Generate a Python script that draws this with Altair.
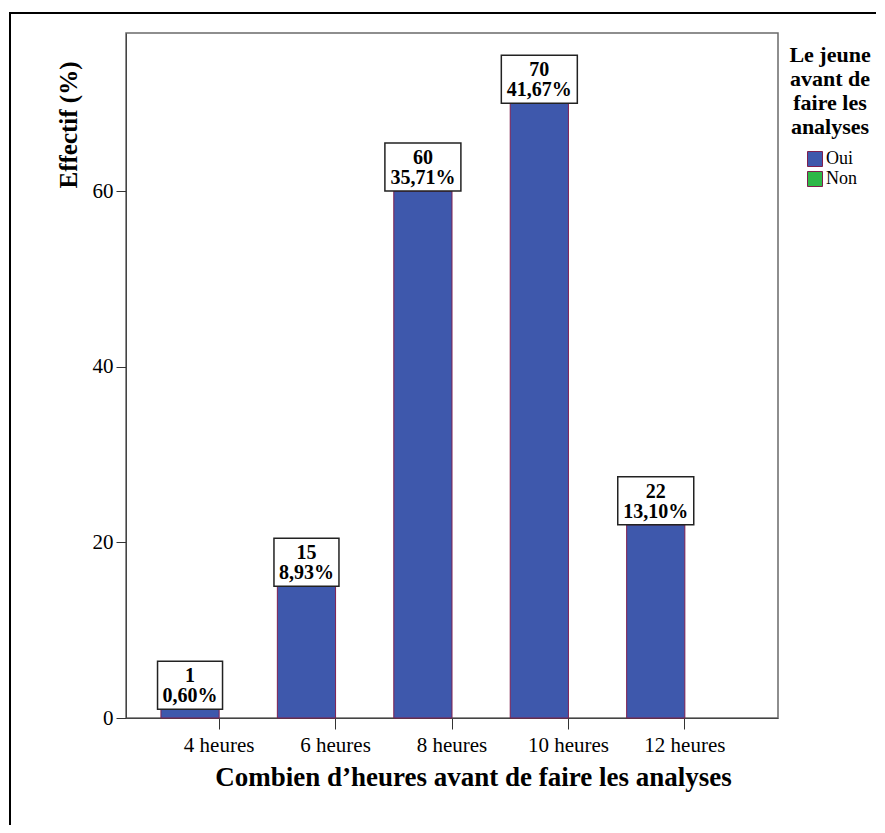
import altair as alt
import pandas as pd

categories = ["4 heures", "6 heures", "8 heures", "10 heures", "12 heures"]
counts = [1, 15, 60, 70, 22]
percents = ["0,60%", "8,93%", "35,71%", "41,67%", "13,10%"]
groups = ["Oui", "Non"]
group_colors = ["#3E58AC", "#2EB848"]

df = pd.DataFrame({
    "cat": categories,
    "count": counts,
    "pct": percents,
    "group": ["Oui"] * len(categories),
})

SERIF = "Liberation Serif"
EDGE = "#7F1F4F"

x_enc = alt.X(
    "cat:N", sort=categories,
    scale=alt.Scale(paddingInner=0, paddingOuter=0.3),
    axis=alt.Axis(
        title="Combien d\u2019heures avant de faire les analyses",
        labelAngle=0, labelFont=SERIF, labelFontSize=21, labelColor="black",
        labelPadding=5, tickSize=11, tickColor="#333", domainColor="#444",
        titleFont=SERIF, titleFontSize=27, titleFontWeight="bold",
        titleColor="black", titlePadding=9, titleX=347, titleAlign="center",
    ),
)
xoff = alt.XOffset("group:N", scale=alt.Scale(domain=groups))

y_scale = alt.Scale(domain=[0, 78], nice=False)

base = alt.Chart(df).encode(x=x_enc, xOffset=xoff)

bars = base.mark_bar(stroke=EDGE, strokeWidth=1).encode(
    y=alt.Y(
        "count:Q", scale=y_scale,
        axis=alt.Axis(
            title="Effectif (%)", values=[0, 20, 40, 60], grid=False,
            labelFont=SERIF, labelFontSize=21, labelColor="black",
            labelPadding=3, tickSize=10, tickColor="#333", domainColor="#444",
            titleFont=SERIF, titleFontSize=25, titleFontWeight="bold",
            titleColor="black", titleAlign="right", titleAngle=-90,
            titleX=-58, titleY=28, titleBaseline="middle",
        ),
    ),
    color=alt.Color(
        "group:N",
        scale=alt.Scale(domain=groups, range=group_colors),
        legend=alt.Legend(
            title=["Le jeune", "avant de", "faire les", "analyses"],
            orient="none", legendX=663, legendY=12,
            titleFont=SERIF, titleFontSize=22, titleFontWeight="bold",
            titleColor="black", titleAlign="center", titleAnchor="middle",
            titleLineHeight=24, titlePadding=11,
            symbolType="square", symbolSize=225, symbolStrokeColor=EDGE,
            symbolStrokeWidth=1, symbolOffset=2,
            labelFont=SERIF, labelFontSize=18, labelColor="black",
            labelOffset=2, rowPadding=0,
        ),
    ),
)

boxes = base.mark_bar(
    fill="white", stroke="#222", strokeWidth=1.5, y2Offset=-48
).encode(
    y=alt.Y("count:Q", scale=y_scale),
    y2="count:Q",
    size=alt.Size("boxw:Q", scale=None, legend=None),
).transform_calculate(boxw="10 + 11 * length(datum.pct)")

count_text = base.mark_text(
    font=SERIF, fontSize=20, fontWeight="bold", color="black",
    baseline="alphabetic", dy=-27,
).encode(
    y=alt.Y("count:Q", scale=y_scale),
    text="count:Q",
)
pct_text = base.mark_text(
    font=SERIF, fontSize=20, fontWeight="bold", color="black",
    baseline="alphabetic", dy=-7,
).encode(
    y=alt.Y("count:Q", scale=y_scale),
    text="pct:N",
)

one = pd.DataFrame({"a": [0]})
frame_v = alt.Chart(one).mark_rule(color="black", strokeWidth=2, clip=False).encode(
    x=alt.value(-116), y=alt.value(-21), y2=alt.value(792)
)
frame_h = alt.Chart(one).mark_rule(color="black", strokeWidth=2, clip=False).encode(
    x=alt.value(-117), x2=alt.value(750), y=alt.value(-20)
)

chart = alt.layer(bars, boxes, count_text, pct_text, frame_v, frame_h).properties(
    width=652, height=685,
    padding={"left": 0, "top": 3, "right": 0, "bottom": 0},
).configure_view(stroke="#6a6a6a", strokeWidth=1.5)

chart.save("out.html", embed_options={"renderer": "svg", "actions": False})
